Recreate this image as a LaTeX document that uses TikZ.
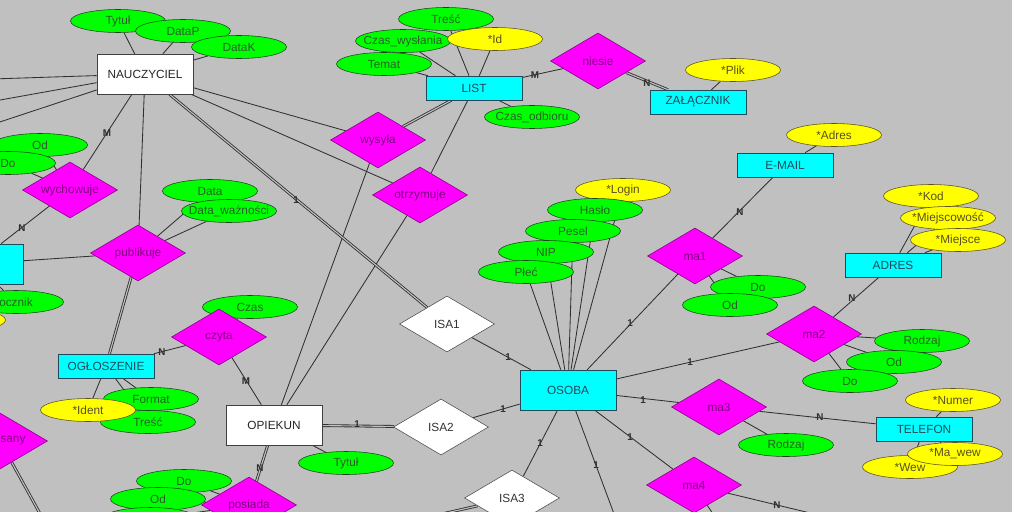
\documentclass[tikz,border=0pt]{standalone}
\usepackage{fontspec}
\setmainfont{Liberation Sans}
\usetikzlibrary{shapes.geometric}
\pgfdeclarelayer{tlo}
\pgfdeclarelayer{linie}
\pgfsetlayers{tlo,linie,main}
\definecolor{szary}{HTML}{C0C0C0}
\definecolor{ziel}{HTML}{00FF00}
\definecolor{zolty}{HTML}{FFFF00}
\definecolor{turkus}{HTML}{00FFFF}
\definecolor{roz}{HTML}{FF00FF}
\definecolor{fiolet}{HTML}{800080}
\definecolor{zielTxt}{HTML}{2A602A}
\definecolor{zolTxt}{HTML}{5A5020}
\definecolor{entTxt}{HTML}{204A5A}
\definecolor{linia}{HTML}{303030}
\begin{document}
\begin{tikzpicture}[x=0.025cm,y=-0.025cm,font=\fontsize{8.4}{10}\selectfont,
ent/.style={draw=entTxt,fill=turkus,text=entTxt,minimum width=2.4cm,minimum height=0.6cm,inner sep=0pt},
nent/.style={ent,draw=black!75,fill=white,text=black!85,minimum height=1cm},
attr/.style={ellipse,draw=zielTxt!70!black,fill=ziel,text=zielTxt,minimum width=2.375cm,minimum height=0.575cm,inner xsep=-40pt,inner ysep=0pt},
key/.style={attr,draw=zolTxt,fill=zolty,text=zolTxt},
rel/.style={diamond,aspect=1.7,draw=fiolet,fill=roz,text=fiolet,minimum width=2.375cm,minimum height=1.4cm,inner sep=0pt},
isa/.style={rel,draw=black!70,fill=white,text=black!80},
ln/.style={draw=linia,line width=0.6pt},
dbl/.style={ln,double=szary,double distance=0.8pt},
card/.style={font=\fontsize{7}{8}\selectfont\bfseries,text=linia,inner sep=0pt}]
\useasboundingbox (0,0) rectangle (1024,512);
% NAUCZYCIEL
\node[attr] (tyt) at (118,21) {Tytuł};
\node[attr] (dp) at (183,31) {DataP};
\node[attr] (dk) at (239,47) {DataK};
\node[nent] (nau) at (145,74) {NAUCZYCIEL};
% LIST
\node[attr] (tre) at (446,19) {Treść};
\node[attr] (czw) at (403,41) {Czas\_wysłania};
\node[key] (lid) at (495,39) {*Id};
\node[attr] (tem) at (384,64) {Temat};
\node[ent] (list) at (474,88) {LIST};
\node[attr] (czo) at (532,117) {Czas\_odbioru};
\node[rel] (nie) at (598,61) {niesie};
\node[key] (plik) at (733,70) {*Plik};
\node[ent] (zal) at (698,102) {ZAŁĄCZNIK};
\node[key] (adr) at (834,135) {*Adres};
\node[ent] (mail) at (785,165) {E-MAIL};
\node[key] (kod) at (931,196) {*Kod};
\node[key] (mcw) at (948,218) {*Miejscowość};
\node[key] (mce) at (958,240) {*Miejsce};
\node[ent] (adres) at (893,265) {ADRES};
\node[rel] (wys) at (378,140) {wysyła};
\node[rel] (otr) at (420,195) {otrzymuje};
% lewa strona
\node[attr] (wod) at (40,145) {Od};
\node[attr] (wdo) at (8,163) {Do};
\node[rel] (wych) at (70,190) {wychowuje};
\node[ent,minimum height=1cm] (lewa) at (-25,264) {};
\node[attr] (roc) at (16,302) {ocznik};
\node[key] (lkey) at (-42,320) {};
\node[attr] (dat) at (210,191) {Data};
\node[attr] (dtw) at (229,211) {Data\_ważności};
\node[rel] (pub) at (138,253) {publikuje};
\node[attr] (czas) at (250,307) {Czas};
\node[rel] (czy) at (219,337) {czyta};
\node[ent] (ogl) at (106,366) {OGŁOSZENIE};
\node[attr] (fmt) at (151,399) {Format};
\node[attr] (otre) at (148,422) {Treść};
\node[key] (idt) at (88,410) {*Ident};
\node[rel] (opis) at (0,441) {};
\node[text=fiolet,inner sep=0pt] (opisT) at (13,441) {sany};
% OPIEKUN
\node[nent] (opi) at (274,425) {OPIEKUN};
\node[attr] (otyt) at (346,463) {Tytuł};
\node[attr] (pdo) at (184,481) {Do};
\node[attr] (pod) at (158,499) {Od};
\node[attr] (px) at (150,519) {};
\node[rel] (pos) at (249,505) {posiada};
% OSOBA
\node[key] (log) at (623,190) {*Login};
\node[attr] (has) at (595,210) {Hasło};
\node[attr] (pes) at (573,231) {Pesel};
\node[attr] (nip) at (546,252) {NIP};
\node[attr] (plec) at (526,272) {Płeć};
\node[isa] (isa1) at (447,324) {ISA1};
\node[isa] (isa2) at (441,427) {ISA2};
\node[isa] (isa3) at (512,498) {ISA3};
\node[ent,minimum height=1cm] (oso) at (568,390) {OSOBA};
\node[attr] (m1do) at (758,287) {Do};
\node[attr] (m1od) at (730,305) {Od};
\node[rel] (ma1) at (695,256) {ma1};
\node[attr] (m2ro) at (922,341) {Rodzaj};
\node[attr] (m2od) at (894,362) {Od};
\node[attr] (m2do) at (850,381) {Do};
\node[rel] (ma2) at (814,334) {ma2};
\node[rel] (ma3) at (719,407) {ma3};
\node[attr] (m3ro) at (786,445) {Rodzaj};
\node[key] (num) at (953,400) {*Numer};
\node[ent] (tel) at (924,429) {TELEFON};
\node[key] (wew) at (910,467) {*Wew};
\node[key] (mww) at (955,454) {*Ma\_wew};
\node[rel] (ma4) at (694,485) {ma4};
% poza kadrem
\coordinate (offa) at (-100,82);
\coordinate (offb) at (-100,118);
\coordinate (offc) at (-100,155);
\coordinate (offd) at (620,530);
\coordinate (offe) at (380,528);
\coordinate (offf) at (60,550);
\coordinate (offg) at (860,525);
\coordinate (offh) at (730,540);
% krotnosci
\foreach \x/\y/\t in {107/133/M,22/228/N,296/200/1,535/75/M,647/83/N,740/212/N,852/298/N,
630/323/1,690/362/1,643/400/1,820/417/N,630/437/1,777/505/N,508/357/1,503/409/1,
357/424/1,540/443/1,596/465/1,246/381/M,162/352/N,260/468/N}
  {\node[card] (k\t\x) at (\x,\y) {\t};}
\begin{pgfonlayer}{linie}
\foreach \a/\b in {nau/tyt,nau/dp,nau/dk,nau/offa,nau/offb,nau/offc,nau/wych,nau/pub,nau/wys,nau/otr,
list/tre,list/czw,list/lid,list/tem,list/czo,list/nie,list/otr,zal/plik,mail/adr,mail/ma1,
adres/kod,adres/mcw,adres/mce,adres/ma2,wych/wod,wych/wdo,wych/lewa,lewa/roc,lewa/lkey,
pub/lewa,pub/dat,pub/dtw,czy/czas,czy/ogl,czy/opi,ogl/fmt,ogl/otre,ogl/idt,opi/wys,opi/otr,
opi/otyt,pos/pdo,pos/pod,pos/px,oso/log,oso/has,oso/pes,oso/nip,oso/plec,oso/isa1,oso/isa2,
oso/isa3,oso/offd,oso/ma1,oso/ma2,oso/ma3,oso/ma4,ma1/m1do,ma1/m1od,ma2/m2ro,ma2/m2od,
ma2/m2do,ma3/m3ro,ma3/tel,tel/num,tel/wew,tel/mww,ma4/offg,ma4/offh}
  {\draw[ln] (\a) -- (\b);}
\foreach \a/\b in {nau/isa1,list/wys,nie/zal,pub/ogl,opi/isa2,opi/pos,opis/offf,isa3/offe}
  {\draw[dbl] (\a) -- (\b);}
\end{pgfonlayer}
\begin{pgfonlayer}{tlo}
\fill[szary] (0,0) rectangle (1012,512);
\fill[white] (1012,0) rectangle (1024,512);
\end{pgfonlayer}
\end{tikzpicture}
\end{document}
